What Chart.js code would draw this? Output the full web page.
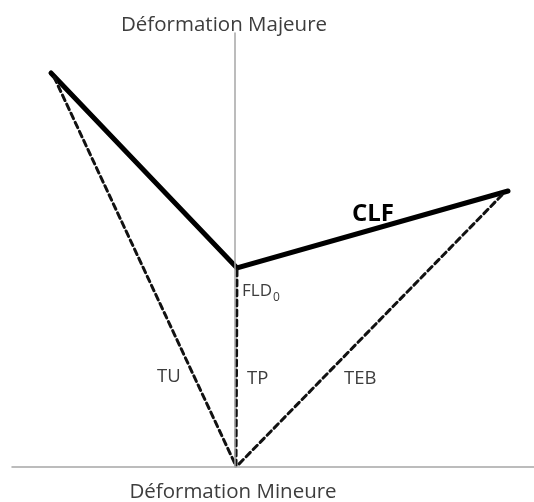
<!DOCTYPE html>
<html>
<head>
<meta charset="utf-8">
<script src="https://cdn.jsdelivr.net/npm/chart.js@4"></script>
<style>
  html, body { margin: 0; padding: 0; background: #fff; }
  #wrap { width: 534px; height: 502px; }
</style>
</head>
<body>
<div id="wrap"><canvas id="fld-canvas"></canvas></div>
<script>
// points of the diagram (x = minor strain, y = major strain), arbitrary units
const clf_x = [-1.85, 0.01, 2.72];
const clf_y = [3.94, 1.99, 2.76];
const tu_x = [-1.82, 0.0];
const tu_y = [3.90, 0.01];
const tp_x = [0.01, 0.0];
const tp_y = [1.97, 0.01];
const teb_x = [2.66, 0.01];
const teb_y = [2.72, 0.01];
const axis_h_x = [-2.24, 2.98];
const axis_h_y = [0, 0];
const axis_v_x = [-0.01, -0.01];
const axis_v_y = [0, 4.34];

function pts(xs, ys){
  return xs.map((x, i) => ({x: x, y: ys[i]}));
}

function line(xs, ys, color, width, dash){
  return {
    data: pts(xs, ys),
    showLine: true,
    borderColor: color,
    borderWidth: width,
    borderDash: dash || [],
    borderCapStyle: 'round',
    pointRadius: 0,
    fill: false
  };
}

const labels_plugin = {
  id: 'labels',
  afterDraw(chart){
    const ctx = chart.ctx;
    const xs = chart.scales.x, ys = chart.scales.y;
    const px = v => xs.getPixelForValue(v), py = v => ys.getPixelForValue(v);
    ctx.save();
    ctx.textBaseline = 'alphabetic';
    ctx.fillStyle = '#3d3d3d';
    ctx.font = '20.5px "Open Sans", sans-serif';
    ctx.textAlign = 'center';
    ctx.fillText('Déformation Majeure', px(-0.12), py(4.36));
    ctx.fillText('Déformation Mineure', px(-0.03), py(-0.31));
    ctx.textAlign = 'left';
    ctx.font = '17px "Open Sans", sans-serif';
    ctx.fillText('FLD', px(0.06), py(1.71));
    const w = ctx.measureText('FLD').width;
    ctx.font = '12px "Open Sans", sans-serif';
    ctx.fillText('0', px(0.06) + w + 1, py(1.66));
    ctx.font = '18.5px "Open Sans", sans-serif';
    ctx.fillText('TU', px(-0.79), py(0.85));
    ctx.fillText('TP', px(0.11), py(0.83));
    ctx.fillText('TEB', px(1.08), py(0.83));
    ctx.fillStyle = '#000';
    ctx.font = 'bold 24px "Open Sans", sans-serif';
    ctx.fillText('CLF', px(1.16), py(2.46));
    ctx.restore();
  }
};

const ctx = document.getElementById('fld-canvas');
const myChart = new Chart(ctx, {
  type: 'scatter',
  data: {
    datasets: [
      line(axis_h_x, axis_h_y, '#a6a6a6', 1.5),
      line(axis_v_x, axis_v_y, '#a6a6a6', 1.5),
      line(tu_x, tu_y, '#111', 3, [6, 4]),
      line(tp_x, tp_y, '#111', 3, [6, 4]),
      line(teb_x, teb_y, '#111', 3, [6, 4]),
      line(clf_x, clf_y, '#000', 5)
    ]
  },
  plugins: [labels_plugin],
  options: {
    animation: false,
    responsive: true,
    maintainAspectRatio: false,
    events: [],
    layout: { padding: 0 },
    plugins: {
      legend: false,
      title: { display: false },
      tooltip: { enabled: false }
    },
    scales: {
      x: { type: 'linear', min: -2.36, max: 2.98, display: false },
      y: { type: 'linear', min: -0.35, max: 4.67, display: false }
    }
  }
});
</script>
</body>
</html>
